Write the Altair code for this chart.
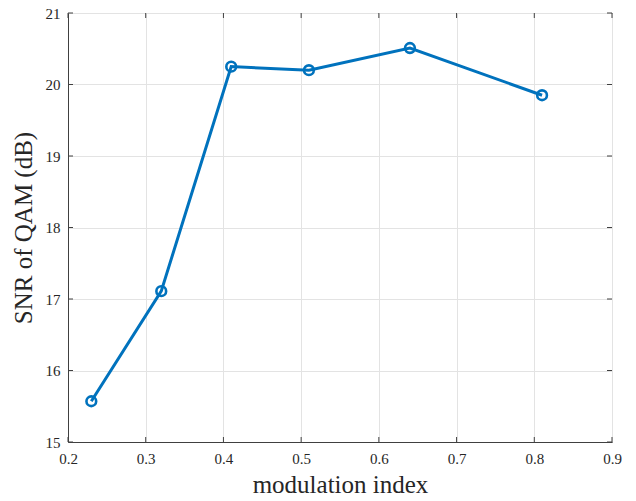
import altair as alt
import pandas as pd

mod_index = [0.23, 0.32, 0.41, 0.51, 0.64, 0.81]
snr_db = [15.57, 17.11, 20.25, 20.20, 20.51, 19.85]
x_ticks = [0.2, 0.3, 0.4, 0.5, 0.6, 0.7, 0.8, 0.9]
y_ticks = [15, 16, 17, 18, 19, 20, 21]

W, H = 544, 429
FONT = "Liberation Serif"
BLUE = "#0072BD"

df = pd.DataFrame({"x": mod_index, "y": snr_db})
xt = pd.DataFrame({"x": x_ticks})
yt = pd.DataFrame({"y": y_ticks})

xscale = alt.Scale(domain=[0.2, 0.9], nice=False, zero=False)
yscale = alt.Scale(domain=[15, 21], nice=False, zero=False)

common = dict(labelFont=FONT, labelFontSize=15, labelColor="#262626",
              titleFont=FONT, titleFontWeight="normal", titleColor="#262626",
              tickSize=0, domainColor="#404040", gridColor="#e3e3e3",
              labelFlush=False)
xaxis = alt.Axis(values=x_ticks, format=".1f", title="modulation index",
                 titleFontSize=25, labelPadding=9, titlePadding=6, **common)
yaxis = alt.Axis(values=y_ticks, format="d", title="SNR of QAM (dB)",
                 titleFontSize=25, labelPadding=8, titlePadding=9, **common)

base = alt.Chart(df)
line = base.mark_line(color=BLUE, strokeWidth=3).encode(
    x=alt.X("x:Q", scale=xscale, axis=xaxis),
    y=alt.Y("y:Q", scale=yscale, axis=yaxis),
)
pts = base.mark_point(shape="circle", filled=False, color=BLUE, size=95,
                      strokeWidth=2.6, opacity=1).encode(
    x=alt.X("x:Q", scale=xscale),
    y=alt.Y("y:Q", scale=yscale),
)

tick_col = "#404040"
bt = alt.Chart(xt).mark_rule(color=tick_col, strokeWidth=1).encode(
    x=alt.X("x:Q", scale=xscale), y=alt.value(H), y2=alt.value(H - 5))
tt = alt.Chart(xt).mark_rule(color=tick_col, strokeWidth=1).encode(
    x=alt.X("x:Q", scale=xscale), y=alt.value(0), y2=alt.value(5))
lt = alt.Chart(yt).mark_rule(color=tick_col, strokeWidth=1).encode(
    y=alt.Y("y:Q", scale=yscale), x=alt.value(0), x2=alt.value(5))
rt = alt.Chart(yt).mark_rule(color=tick_col, strokeWidth=1).encode(
    y=alt.Y("y:Q", scale=yscale), x=alt.value(W), x2=alt.value(W - 5))

chart = alt.layer(line, bt, tt, lt, rt, pts).properties(
    width=W, height=H,
    autosize=alt.AutoSizeParams(type="none"),
    padding={"left": 68, "top": 13, "right": 24, "bottom": 59},
).configure(background="white").configure_view(stroke="#404040", strokeWidth=1)

chart.save("out.html", embed_options={"renderer": "svg", "actions": False})
